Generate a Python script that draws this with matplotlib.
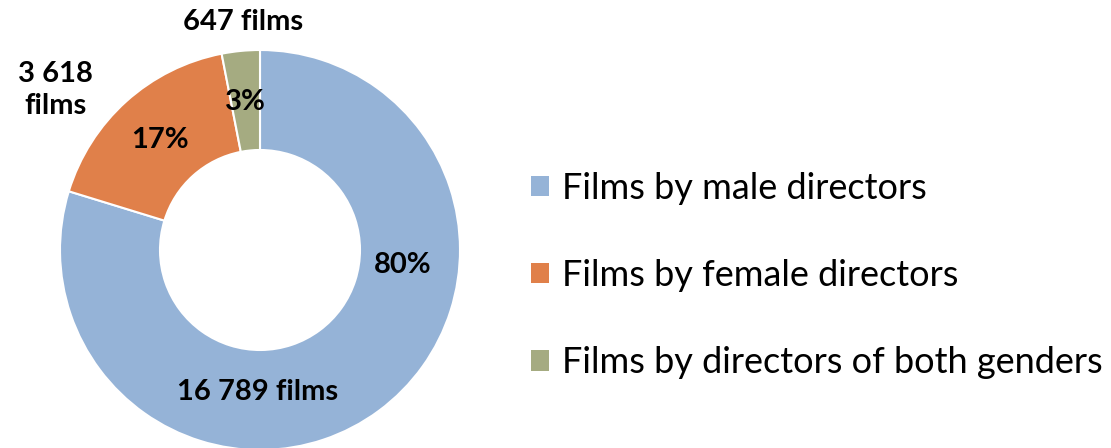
import matplotlib
matplotlib.use("Agg")
import matplotlib.pyplot as plt
from matplotlib.patches import Patch

plt.rcParams['font.family'] = ['Lato', 'DejaVu Sans']

labels = ["Films by male directors", "Films by female directors", "Films by directors of both genders"]
counts = [16789, 3618, 647]
count_labels = ["16 789 films", "3 618\nfilms", "647 films"]
colors = ["#95B3D7", "#E0804A", "#A5AB81"]

fig = plt.figure(figsize=(11.11, 4.48), dpi=100)
ax = fig.add_axes([60 / 1111, -2 / 448, 400 / 1111, 400 / 448])

wedges, _ = ax.pie(counts, colors=colors, startangle=90, counterclock=False, radius=1,
                   wedgeprops=dict(width=0.5, edgecolor="white", linewidth=1.5))
ax.set_xlim(-1, 1)
ax.set_ylim(-1, 1)
ax.set_aspect("equal")

total = sum(counts)
pcts = ["%d%%" % round(c * 100 / total) for c in counts]

# label placement (as in the original chart)
pct_pos = [(0.715, -0.075), (-0.5, 0.55), (-0.075, 0.74)]
cnt_pos = [(-0.01, -0.71), (-1.025, 0.80), (-0.085, 1.14)]
for p, xy in zip(pcts, pct_pos):
    ax.text(xy[0], xy[1], p, ha="center", va="center", fontsize=21, fontweight="bold")
for c, xy in zip(count_labels, cnt_pos):
    ax.text(xy[0], xy[1], c, ha="center", va="center", fontsize=21, fontweight="bold",
            linespacing=1.27, clip_on=False)

handles = [Patch(facecolor=col, edgecolor="none") for col in colors]
fig.legend(handles, labels, loc="center left", bbox_to_anchor=(498 / 1111, 0.385),
           frameon=False, fontsize=26, handlelength=0.5, handleheight=0.5,
           handletextpad=0.36, labelspacing=1.5)

fig.savefig("out.png", dpi=100)
